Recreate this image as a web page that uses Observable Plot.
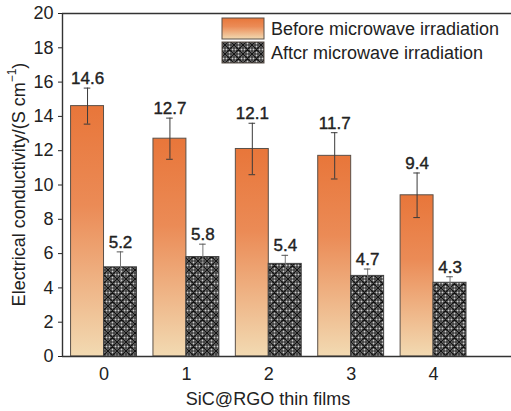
<!DOCTYPE html>
<html><head><meta charset="utf-8">
<script src="https://cdn.jsdelivr.net/npm/d3@7"></script>
<script src="https://cdn.jsdelivr.net/npm/@observablehq/plot@0.6"></script>
<style>
body{margin:0;background:#fff;}
svg{display:block;}
</style>
</head><body><div id="chart"></div>
<script>
// ---- data ----
const films = [0, 1, 2, 3, 4];
const before = [14.6, 12.7, 12.1, 11.7, 9.4];
const beforeErr = [1.05, 1.2, 1.5, 1.35, 1.3];
const after = [5.2, 5.8, 5.4, 4.7, 4.3];
const afterErr = [0.9, 0.75, 0.5, 0.4, 0.35];
const yTicks = [0, 2, 4, 6, 8, 10, 12, 14, 16, 18, 20];
const seriesNames = ["Before microwave irradiation", "Aftcr microwave irradiation"];
const xTitle = "SiC@RGO thin films";
const yTitle = "Electrical conductivity/(S cm";

const rows = films.map((f, i) => ({film: f, before: before[i], beforeErr: beforeErr[i], after: after[i], afterErr: afterErr[i]}));

const FONT = '"Liberation Sans", Arial, Helvetica, sans-serif';
const W = 0.4;       // bar width in category units
const CAP = 0.04;    // error cap half width
const xDomain = [-0.504, 4.946];

const chart = Plot.plot({
  width: 511, height: 411,
  marginLeft: 62, marginRight: 0, marginTop: 13, marginBottom: 55,
  style: {fontFamily: FONT, fontSize: "18px", color: "#222", background: "#fff"},
  x: {domain: xDomain, ticks: films, tickFormat: d => String(d), tickSize: 0, tickPadding: 11, label: null},
  y: {domain: [0, 20], ticks: yTicks, tickSize: 4, tickPadding: 5, label: null},
  marks: [
    Plot.rect(rows, {x1: d => d.film - W, x2: d => d.film, y1: 0, y2: "before", fill: "url(#gradBefore)", stroke: "#5a5048", strokeWidth: 1}),
    Plot.rect(rows, {x1: d => d.film, x2: d => d.film + W, y1: 0, y2: "after", fill: "url(#hatchAfter)", stroke: "#444", strokeWidth: 1}),
    // error bars - before
    Plot.ruleX(rows, {x: d => d.film - W / 2, y1: d => d.before - d.beforeErr, y2: d => d.before + d.beforeErr, stroke: "#3a3a3a", strokeWidth: 1}),
    Plot.ruleY(rows, {y: d => d.before + d.beforeErr, x1: d => d.film - W / 2 - CAP, x2: d => d.film - W / 2 + CAP, stroke: "#3a3a3a", strokeWidth: 1}),
    Plot.ruleY(rows, {y: d => d.before - d.beforeErr, x1: d => d.film - W / 2 - CAP, x2: d => d.film - W / 2 + CAP, stroke: "#3a3a3a", strokeWidth: 1}),
    // error bars - after
    Plot.ruleX(rows, {x: d => d.film + W / 2, y1: d => d.after - d.afterErr, y2: d => d.after + d.afterErr, stroke: "#777", strokeWidth: 1}),
    Plot.ruleY(rows, {y: d => d.after + d.afterErr, x1: d => d.film + W / 2 - CAP, x2: d => d.film + W / 2 + CAP, stroke: "#555", strokeWidth: 1}),
    // value labels
    Plot.text(rows, {x: d => d.film - W / 2, y: d => d.before + d.beforeErr, text: d => d.before.toFixed(1), dy: -4, lineAnchor: "bottom", fontSize: 17, fill: "#222", stroke: "#222", strokeWidth: 0.4}),
    Plot.text(rows, {x: d => d.film + W / 2, y: d => d.after + d.afterErr, text: d => d.after.toFixed(1), dy: -4, lineAnchor: "bottom", fontSize: 17, fill: "#222", stroke: "#222", strokeWidth: 0.4}),
    // frame lines
    Plot.ruleY([20], {stroke: "#333", strokeWidth: 1.4}),
    Plot.ruleY([0], {stroke: "#333", strokeWidth: 1.4}),
    Plot.ruleX([xDomain[0]], {stroke: "#333", strokeWidth: 1.4}),
    // x title
    Plot.text([xTitle], {frameAnchor: "bottom", dx: -19, dy: 48, lineAnchor: "bottom", fontSize: 18, fill: "#222"})
  ]
});

document.getElementById("chart").appendChild(chart);

const svg = d3.select(chart);
const defs = svg.insert("defs", ":first-child");
const g = defs.append("linearGradient").attr("id", "gradBefore").attr("x1", 0).attr("y1", 0).attr("x2", 0).attr("y2", 1);
g.append("stop").attr("offset", "0%").attr("stop-color", "#E8763A");
g.append("stop").attr("offset", "40%").attr("stop-color", "#EB8B56");
g.append("stop").attr("offset", "100%").attr("stop-color", "#F2DAB2");

const pat = defs.append("pattern").attr("id", "hatchAfter").attr("patternUnits", "userSpaceOnUse").attr("width", 9).attr("height", 9);
pat.append("rect").attr("width", 9).attr("height", 9).attr("fill", "#3e3e3e");
for (let i = 0; i < 3; i++) for (let j = 0; j < 3; j++) {
  pat.append("circle").attr("cx", 1.5 + 3 * i).attr("cy", 1.5 + 3 * j).attr("r", 0.95).attr("fill", "#cfcfcf");
}
pat.append("path").attr("d", "M0,0L9,9M9,0L0,9M-1,8L1,10M8,-1L10,1M8,10L10,8M-1,1L1,-1").attr("stroke", "#111").attr("stroke-width", 1.2);

// y title
const yt = svg.append("text")
  .attr("transform", "translate(19,184.5) rotate(-90)")
  .attr("text-anchor", "middle").attr("dominant-baseline", "central")
  .attr("font-family", FONT).attr("font-size", 18).attr("fill", "#222");
yt.append("tspan").text(yTitle);
yt.append("tspan").attr("dy", -7).attr("font-size", 12).text("\u22121");
yt.append("tspan").attr("dy", 7).text(")");

// legend
const leg = svg.append("g").attr("font-family", FONT).attr("font-size", 18).attr("fill", "#222").attr("text-anchor", "start");
const fills = ["url(#gradBefore)", "url(#hatchAfter)"];
const legY = [18, 42];
seriesNames.forEach((name, i) => {
  leg.append("rect").attr("x", 222).attr("y", legY[i]).attr("width", 42).attr("height", 21)
    .attr("fill", fills[i]).attr("stroke", "#5a5048").attr("stroke-width", 1);
  leg.append("text").attr("x", 271).attr("y", legY[i] + 10.5).attr("dominant-baseline", "central").attr("text-anchor", "start").text(name);
});
</script>
</body></html>
